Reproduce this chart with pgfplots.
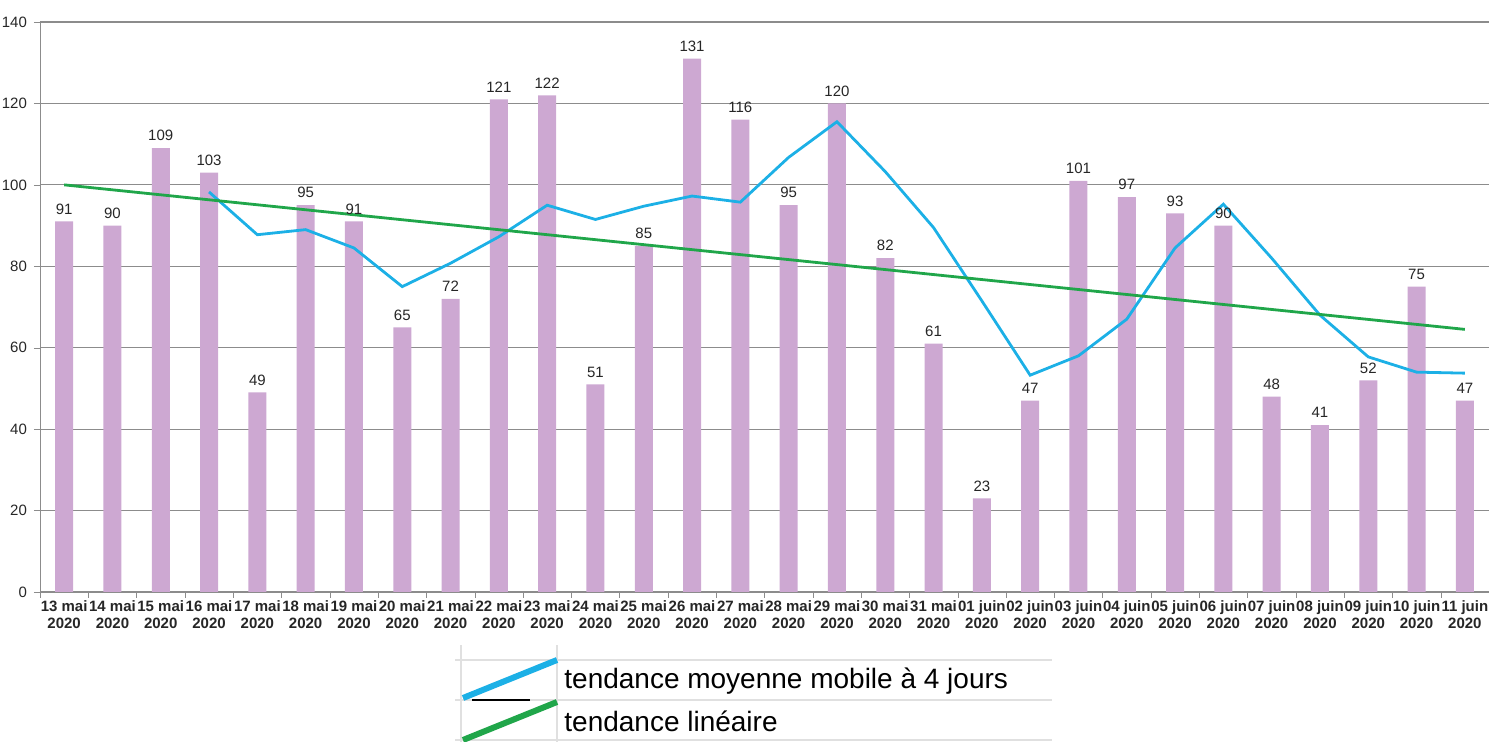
\documentclass[border=0pt]{standalone}
\usepackage{pgfplots}
\pgfplotsset{compat=1.18}
\usepackage{fontspec}
\setmainfont{Liberation Sans}
\definecolor{barlilac}{HTML}{CDA8D2}
\definecolor{mablue}{HTML}{1CB0E6}
\definecolor{trendgreen}{HTML}{20A64A}
\definecolor{gridgray}{HTML}{8C8C8C}

\begin{document}
\begin{tikzpicture}
\path[use as bounding box] (-20pt,-75pt) rectangle (724.5pt,296pt);
\begin{axis}[
    scale only axis, width=724.5pt, height=285pt,
    xmin=-0.5, xmax=29.5, ymin=0, ymax=140,
    ytick={0,20,...,140},
    axis x line*=bottom, axis y line*=left,
    axis line style={gridgray, -},
    ymajorgrids, grid style={gridgray, line width=0.6pt},
    xtick={0,...,29}, major x tick style={draw=none},
    minor xtick={-0.5,0.5,...,29.5},
    minor x tick style={gridgray}, minor tick length=3pt,
    major tick length=3pt, tick align=outside,
    ytick style={gridgray},
    xticklabels={{13 mai\\2020},{14 mai\\2020},{15 mai\\2020},{16 mai\\2020},{17 mai\\2020},{18 mai\\2020},{19 mai\\2020},{20 mai\\2020},{21 mai\\2020},{22 mai\\2020},{23 mai\\2020},{24 mai\\2020},{25 mai\\2020},{26 mai\\2020},{27 mai\\2020},{28 mai\\2020},{29 mai\\2020},{30 mai\\2020},{31 mai\\2020},{01 juin\\2020},{02 juin\\2020},{03 juin\\2020},{04 juin\\2020},{05 juin\\2020},{06 juin\\2020},{07 juin\\2020},{08 juin\\2020},{09 juin\\2020},{10 juin\\2020},{11 juin\\2020}},
    xticklabel style={align=center, font=\fontsize{7.5}{8.5}\selectfont\bfseries, text=black!85, inner sep=1pt},
    yticklabel style={font=\fontsize{7.5}{8.5}\selectfont, text=black!85},
    /pgf/number format/assume math mode=true,
    clip=false,
]
\addplot[ybar, bar width=9pt, bar shift=0pt, fill=barlilac, draw=none,
    nodes near coords, nodes near coords style={font=\fontsize{7.5}{8.5}\selectfont, text=black!85}]
coordinates {
(0,91) (1,90) (2,109) (3,103) (4,49) (5,95) (6,91) (7,65) (8,72) (9,121)
(10,122) (11,51) (12,85) (13,131) (14,116) (15,95) (16,120) (17,82) (18,61) (19,23)
(20,47) (21,101) (22,97) (23,93) (24,90) (25,48) (26,41) (27,52) (28,75) (29,47)
};
\addplot[mablue, line width=1.4pt] coordinates {
(3,98.25) (4,87.75) (5,89) (6,84.5) (7,75) (8,80.75) (9,87.25) (10,95) (11,91.5)
(12,94.75) (13,97.25) (14,95.75) (15,106.75) (16,115.5) (17,103.25) (18,89.5)
(19,71.5) (20,53.25) (21,58) (22,67) (23,84.5) (24,95.25) (25,82) (26,68)
(27,57.75) (28,54) (29,53.75)
};
\addplot[trendgreen, line width=1.4pt] coordinates {(0,100) (29,64.5)};
\end{axis}
% legend
\draw[black!12, line width=0.6pt] (207.5pt,-34pt) -- (506pt,-34pt);
\draw[black!12, line width=0.6pt] (207.5pt,-54pt) -- (506pt,-54pt);
\draw[black!12, line width=0.6pt] (207.5pt,-74pt) -- (506pt,-74pt);
\draw[black!12, line width=0.6pt] (210.5pt,-26.5pt) -- (210.5pt,-75pt);
\draw[black!12, line width=0.6pt] (258.5pt,-26.5pt) -- (258.5pt,-75pt);
\draw[black, line width=0.6pt] (216pt,-54pt) -- (245pt,-54pt);
\draw[mablue, line width=3pt] (211.5pt,-53pt) -- (258.5pt,-34pt);
\draw[trendgreen, line width=3pt] (211.5pt,-74pt) -- (258.5pt,-55pt);
\node[anchor=west, inner sep=0pt, font=\fontsize{14}{16}\selectfont] at (262pt,-44.5pt) {tendance moyenne mobile à 4 jours};
\node[anchor=west, inner sep=0pt, font=\fontsize{14}{16}\selectfont] at (262pt,-64.5pt) {tendance linéaire};
\end{tikzpicture}
\end{document}
